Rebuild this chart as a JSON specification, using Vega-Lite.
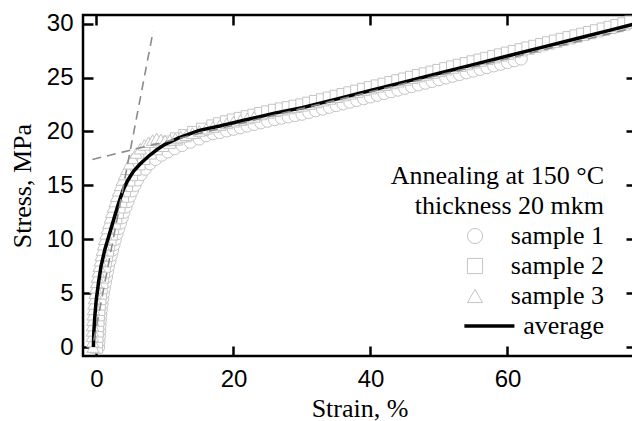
{
  "$schema": "https://vega.github.io/schema/vega-lite/v6.json",
  "width": 553,
  "height": 341,
  "autosize": {"type": "none"},
  "padding": {"left": 83, "top": 15, "right": 0, "bottom": 65},
  "background": "white",
  "config": {
    "view": {"stroke": "black", "strokeWidth": 2.5},
    "axis": {"grid": false, "domain": false, "tickColor": "black", "tickWidth": 2.5, "tickSize": -10, "labelColor": "black", "titleColor": "black", "labelFont": "Liberation Sans", "labelFontSize": 24, "titleFont": "Liberation Serif", "titleFontSize": 26, "titleFontWeight": "normal"},
    "legend": {"orient": "none", "legendX": 308, "legendY": 148, "padding": 0,
      "titleFont": "Liberation Serif", "titleFontSize": 26, "titleFontWeight": "normal", "titleColor": "black", "titleAnchor": "end", "titleAlign": "right", "titleLimit": 400, "titleLineHeight": 30, "titlePadding": 4,
      "labelFont": "Liberation Serif", "labelFontSize": 26, "labelColor": "black", "labelLimit": 300, "labelAlign": "right", "labelOffset": 116,
      "symbolSize": 230, "symbolFillColor": "white", "symbolOpacity": 1, "rowPadding": 4}
  },
  "datasets": {
    "samples": [
      {"series":"sample 1","strain":0.3,"stress":0},{"series":"sample 1","strain":0.35,"stress":0.5},{"series":"sample 1","strain":0.4,"stress":1},{"series":"sample 1","strain":0.45,"stress":1.5},{"series":"sample 1","strain":0.5,"stress":2},{"series":"sample 1","strain":0.55,"stress":2.5},{"series":"sample 1","strain":0.6,"stress":3},{"series":"sample 1","strain":0.7,"stress":3.5},{"series":"sample 1","strain":0.8,"stress":4},{"series":"sample 1","strain":0.9,"stress":4.5},{"series":"sample 1","strain":1.0,"stress":5},{"series":"sample 1","strain":1.15,"stress":5.5},{"series":"sample 1","strain":1.3,"stress":6},{"series":"sample 1","strain":1.45,"stress":6.5},{"series":"sample 1","strain":1.6,"stress":7},{"series":"sample 1","strain":1.75,"stress":7.5},{"series":"sample 1","strain":1.95,"stress":8},{"series":"sample 1","strain":2.15,"stress":8.5},{"series":"sample 1","strain":2.35,"stress":9},{"series":"sample 1","strain":2.55,"stress":9.5},{"series":"sample 1","strain":2.75,"stress":10},{"series":"sample 1","strain":3.0,"stress":10.5},{"series":"sample 1","strain":3.25,"stress":11},{"series":"sample 1","strain":3.5,"stress":11.5},{"series":"sample 1","strain":3.75,"stress":12},{"series":"sample 1","strain":4.0,"stress":12.5},{"series":"sample 1","strain":4.3,"stress":13},{"series":"sample 1","strain":4.6,"stress":13.5},{"series":"sample 1","strain":4.9,"stress":14},{"series":"sample 1","strain":5.25,"stress":14.5},{"series":"sample 1","strain":5.6,"stress":15},{"series":"sample 1","strain":6.0,"stress":15.5},{"series":"sample 1","strain":6.5,"stress":16},{"series":"sample 1","strain":7.1,"stress":16.5},{"series":"sample 1","strain":7.8,"stress":17},{"series":"sample 1","strain":8.6,"stress":17.4},{"series":"sample 1","strain":9.5,"stress":17.8},{"series":"sample 1","strain":10.4,"stress":18.1},{"series":"sample 1","strain":11.4,"stress":18.4},{"series":"sample 1","strain":12.5,"stress":18.7},{"series":"sample 1","strain":13.7,"stress":19.0},{"series":"sample 1","strain":15.0,"stress":19.3},
      {"series":"sample 1","strain":16,"stress":19.6},{"series":"sample 1","strain":17,"stress":19.8},{"series":"sample 1","strain":18,"stress":19.9},{"series":"sample 1","strain":19,"stress":20.05},{"series":"sample 1","strain":20,"stress":20.2},{"series":"sample 1","strain":21,"stress":20.35},{"series":"sample 1","strain":22,"stress":20.5},{"series":"sample 1","strain":23,"stress":20.65},{"series":"sample 1","strain":24,"stress":20.8},{"series":"sample 1","strain":25,"stress":20.95},{"series":"sample 1","strain":26,"stress":21.1},{"series":"sample 1","strain":27,"stress":21.23},{"series":"sample 1","strain":28,"stress":21.35},{"series":"sample 1","strain":29,"stress":21.48},{"series":"sample 1","strain":30,"stress":21.6},{"series":"sample 1","strain":31,"stress":21.76},{"series":"sample 1","strain":32,"stress":21.92},{"series":"sample 1","strain":33,"stress":22.08},{"series":"sample 1","strain":34,"stress":22.24},{"series":"sample 1","strain":35,"stress":22.4},{"series":"sample 1","strain":36,"stress":22.56},{"series":"sample 1","strain":37,"stress":22.72},{"series":"sample 1","strain":38,"stress":22.88},{"series":"sample 1","strain":39,"stress":23.04},{"series":"sample 1","strain":40,"stress":23.2},{"series":"sample 1","strain":41,"stress":23.36},{"series":"sample 1","strain":42,"stress":23.52},{"series":"sample 1","strain":43,"stress":23.68},{"series":"sample 1","strain":44,"stress":23.84},{"series":"sample 1","strain":45,"stress":24.0},{"series":"sample 1","strain":46,"stress":24.16},{"series":"sample 1","strain":47,"stress":24.32},{"series":"sample 1","strain":48,"stress":24.48},{"series":"sample 1","strain":49,"stress":24.64},{"series":"sample 1","strain":50,"stress":24.8},{"series":"sample 1","strain":51,"stress":24.96},{"series":"sample 1","strain":52,"stress":25.12},{"series":"sample 1","strain":53,"stress":25.28},{"series":"sample 1","strain":54,"stress":25.44},{"series":"sample 1","strain":55,"stress":25.6},{"series":"sample 1","strain":56,"stress":25.76},{"series":"sample 1","strain":57,"stress":25.92},{"series":"sample 1","strain":58,"stress":26.08},{"series":"sample 1","strain":59,"stress":26.24},{"series":"sample 1","strain":60,"stress":26.4},{"series":"sample 1","strain":61,"stress":26.56},{"series":"sample 1","strain":62,"stress":26.72},
      {"series":"sample 2","strain":0,"stress":0},{"series":"sample 2","strain":0,"stress":0.5},{"series":"sample 2","strain":0.05,"stress":1},{"series":"sample 2","strain":0.1,"stress":1.5},{"series":"sample 2","strain":0.15,"stress":2},{"series":"sample 2","strain":0.2,"stress":2.5},{"series":"sample 2","strain":0.25,"stress":3},{"series":"sample 2","strain":0.32,"stress":3.5},{"series":"sample 2","strain":0.4,"stress":4},{"series":"sample 2","strain":0.48,"stress":4.5},{"series":"sample 2","strain":0.56,"stress":5},{"series":"sample 2","strain":0.66,"stress":5.5},{"series":"sample 2","strain":0.76,"stress":6},{"series":"sample 2","strain":0.88,"stress":6.5},{"series":"sample 2","strain":1.0,"stress":7},{"series":"sample 2","strain":1.12,"stress":7.5},{"series":"sample 2","strain":1.27,"stress":8},{"series":"sample 2","strain":1.42,"stress":8.5},{"series":"sample 2","strain":1.58,"stress":9},{"series":"sample 2","strain":1.76,"stress":9.5},{"series":"sample 2","strain":1.95,"stress":10},{"series":"sample 2","strain":2.15,"stress":10.5},{"series":"sample 2","strain":2.35,"stress":11},{"series":"sample 2","strain":2.57,"stress":11.5},{"series":"sample 2","strain":2.8,"stress":12},{"series":"sample 2","strain":3.03,"stress":12.5},{"series":"sample 2","strain":3.27,"stress":13},{"series":"sample 2","strain":3.52,"stress":13.5},{"series":"sample 2","strain":3.78,"stress":14},{"series":"sample 2","strain":4.06,"stress":14.5},{"series":"sample 2","strain":4.37,"stress":15},{"series":"sample 2","strain":4.7,"stress":15.5},{"series":"sample 2","strain":5.1,"stress":16},{"series":"sample 2","strain":5.6,"stress":16.5},{"series":"sample 2","strain":6.2,"stress":17},{"series":"sample 2","strain":6.9,"stress":17.5},{"series":"sample 2","strain":7.8,"stress":18},{"series":"sample 2","strain":8.7,"stress":18.4},{"series":"sample 2","strain":9.6,"stress":18.7},{"series":"sample 2","strain":10.6,"stress":19.0},{"series":"sample 2","strain":11.7,"stress":19.3},{"series":"sample 2","strain":12.9,"stress":19.6},{"series":"sample 2","strain":14.2,"stress":19.9},{"series":"sample 2","strain":15.5,"stress":20.2},
      {"series":"sample 2","strain":17,"stress":20.5},{"series":"sample 2","strain":18,"stress":20.7},{"series":"sample 2","strain":19,"stress":20.88},{"series":"sample 2","strain":20,"stress":21.05},{"series":"sample 2","strain":21,"stress":21.2},{"series":"sample 2","strain":22,"stress":21.35},{"series":"sample 2","strain":23,"stress":21.5},{"series":"sample 2","strain":24,"stress":21.65},{"series":"sample 2","strain":25,"stress":21.8},{"series":"sample 2","strain":26,"stress":21.95},{"series":"sample 2","strain":27,"stress":22.08},{"series":"sample 2","strain":28,"stress":22.2},{"series":"sample 2","strain":29,"stress":22.33},{"series":"sample 2","strain":30,"stress":22.45},{"series":"sample 2","strain":31,"stress":22.61},{"series":"sample 2","strain":32,"stress":22.77},{"series":"sample 2","strain":33,"stress":22.93},{"series":"sample 2","strain":34,"stress":23.09},{"series":"sample 2","strain":35,"stress":23.25},{"series":"sample 2","strain":36,"stress":23.41},{"series":"sample 2","strain":37,"stress":23.57},{"series":"sample 2","strain":38,"stress":23.73},{"series":"sample 2","strain":39,"stress":23.89},{"series":"sample 2","strain":40,"stress":24.05},{"series":"sample 2","strain":41,"stress":24.21},{"series":"sample 2","strain":42,"stress":24.37},{"series":"sample 2","strain":43,"stress":24.53},{"series":"sample 2","strain":44,"stress":24.69},{"series":"sample 2","strain":45,"stress":24.85},{"series":"sample 2","strain":46,"stress":25.01},{"series":"sample 2","strain":47,"stress":25.17},{"series":"sample 2","strain":48,"stress":25.33},{"series":"sample 2","strain":49,"stress":25.49},{"series":"sample 2","strain":50,"stress":25.65},{"series":"sample 2","strain":51,"stress":25.81},{"series":"sample 2","strain":52,"stress":25.97},{"series":"sample 2","strain":53,"stress":26.13},{"series":"sample 2","strain":54,"stress":26.29},{"series":"sample 2","strain":55,"stress":26.45},{"series":"sample 2","strain":56,"stress":26.61},{"series":"sample 2","strain":57,"stress":26.77},{"series":"sample 2","strain":58,"stress":26.93},{"series":"sample 2","strain":59,"stress":27.09},{"series":"sample 2","strain":60,"stress":27.25},{"series":"sample 2","strain":61,"stress":27.41},{"series":"sample 2","strain":62,"stress":27.57},{"series":"sample 2","strain":63,"stress":27.73},{"series":"sample 2","strain":64,"stress":27.89},{"series":"sample 2","strain":65,"stress":28.05},{"series":"sample 2","strain":66,"stress":28.21},{"series":"sample 2","strain":67,"stress":28.37},{"series":"sample 2","strain":68,"stress":28.53},{"series":"sample 2","strain":69,"stress":28.69},{"series":"sample 2","strain":70,"stress":28.85},{"series":"sample 2","strain":71,"stress":29.01},{"series":"sample 2","strain":72,"stress":29.17},{"series":"sample 2","strain":73,"stress":29.33},{"series":"sample 2","strain":74,"stress":29.49},{"series":"sample 2","strain":75,"stress":29.65},{"series":"sample 2","strain":76,"stress":29.81},{"series":"sample 2","strain":77,"stress":29.97},{"series":"sample 2","strain":78,"stress":30.13},
      {"series":"sample 3","strain":-0.5,"stress":0},{"series":"sample 3","strain":-0.55,"stress":0.5},{"series":"sample 3","strain":-0.6,"stress":1},{"series":"sample 3","strain":-0.6,"stress":1.5},{"series":"sample 3","strain":-0.58,"stress":2},{"series":"sample 3","strain":-0.55,"stress":2.5},{"series":"sample 3","strain":-0.5,"stress":3},{"series":"sample 3","strain":-0.45,"stress":3.5},{"series":"sample 3","strain":-0.38,"stress":4},{"series":"sample 3","strain":-0.3,"stress":4.5},{"series":"sample 3","strain":-0.2,"stress":5},{"series":"sample 3","strain":-0.1,"stress":5.5},{"series":"sample 3","strain":0,"stress":6},{"series":"sample 3","strain":0.12,"stress":6.5},{"series":"sample 3","strain":0.25,"stress":7},{"series":"sample 3","strain":0.38,"stress":7.5},{"series":"sample 3","strain":0.52,"stress":8},{"series":"sample 3","strain":0.67,"stress":8.5},{"series":"sample 3","strain":0.83,"stress":9},{"series":"sample 3","strain":1.0,"stress":9.5},{"series":"sample 3","strain":1.18,"stress":10},{"series":"sample 3","strain":1.37,"stress":10.5},{"series":"sample 3","strain":1.57,"stress":11},{"series":"sample 3","strain":1.78,"stress":11.5},{"series":"sample 3","strain":2.0,"stress":12},{"series":"sample 3","strain":2.22,"stress":12.5},{"series":"sample 3","strain":2.45,"stress":13},{"series":"sample 3","strain":2.7,"stress":13.5},{"series":"sample 3","strain":2.95,"stress":14},{"series":"sample 3","strain":3.2,"stress":14.5},{"series":"sample 3","strain":3.48,"stress":15},{"series":"sample 3","strain":3.77,"stress":15.5},{"series":"sample 3","strain":4.08,"stress":16},{"series":"sample 3","strain":4.42,"stress":16.5},{"series":"sample 3","strain":4.8,"stress":17},{"series":"sample 3","strain":5.25,"stress":17.5},{"series":"sample 3","strain":5.8,"stress":18},{"series":"sample 3","strain":6.4,"stress":18.4},{"series":"sample 3","strain":7.0,"stress":18.75},{"series":"sample 3","strain":7.6,"stress":19.0},{"series":"sample 3","strain":8.2,"stress":19.2},{"series":"sample 3","strain":8.8,"stress":19.35},{"series":"sample 3","strain":9.4,"stress":19.25},{"series":"sample 3","strain":10.0,"stress":19.15},{"series":"sample 3","strain":10.7,"stress":19.2},{"series":"sample 3","strain":11.5,"stress":19.35},{"series":"sample 3","strain":12.3,"stress":19.5},{"series":"sample 3","strain":13.1,"stress":19.65},{"series":"sample 3","strain":14,"stress":19.85},{"series":"sample 3","strain":15,"stress":20.05},{"series":"sample 3","strain":16,"stress":20.25},{"series":"sample 3","strain":17,"stress":20.42},{"series":"sample 3","strain":18,"stress":20.6},{"series":"sample 3","strain":19,"stress":20.75},{"series":"sample 3","strain":20,"stress":20.9},{"series":"sample 3","strain":21,"stress":21.05},{"series":"sample 3","strain":22,"stress":21.2},{"series":"sample 3","strain":23,"stress":21.35}
    ],
    "average": [
      {"series":"average","strain":-0.45,"stress":0.0},{"series":"average","strain":-0.4,"stress":1.3},{"series":"average","strain":-0.25,"stress":2.8},{"series":"average","strain":-0.05,"stress":4.3},{"series":"average","strain":0.3,"stress":6.0},{"series":"average","strain":0.65,"stress":7.45},{"series":"average","strain":1.2,"stress":9.0},{"series":"average","strain":1.8,"stress":10.3},{"series":"average","strain":2.5,"stress":11.8},{"series":"average","strain":3.2,"stress":13.3},{"series":"average","strain":3.9,"stress":14.6},{"series":"average","strain":4.6,"stress":15.5},{"series":"average","strain":5.4,"stress":16.3},{"series":"average","strain":6.4,"stress":17.0},{"series":"average","strain":7.6,"stress":17.7},{"series":"average","strain":8.8,"stress":18.3},{"series":"average","strain":10,"stress":18.8},{"series":"average","strain":12,"stress":19.4},{"series":"average","strain":15,"stress":20.1},{"series":"average","strain":18,"stress":20.5},{"series":"average","strain":22,"stress":21.1},{"series":"average","strain":26,"stress":21.7},{"series":"average","strain":30,"stress":22.2},{"series":"average","strain":35,"stress":23.0},{"series":"average","strain":40,"stress":23.8},{"series":"average","strain":45,"stress":24.6},{"series":"average","strain":50,"stress":25.4},{"series":"average","strain":55,"stress":26.2},{"series":"average","strain":60,"stress":27.0},{"series":"average","strain":65,"stress":27.8},{"series":"average","strain":70,"stress":28.6},{"series":"average","strain":75,"stress":29.4},{"series":"average","strain":79,"stress":30.04}
    ],
    "fits": [
      {"fit":"elastic","strain":-0.4,"stress":0.6},{"fit":"elastic","strain":8.27,"stress":29.3},
      {"fit":"plastic","strain":-0.6,"stress":17.4},{"fit":"plastic","strain":79,"stress":29.7}
    ]
  },
  "layer": [
    {
      "data": {"name": "samples"},
      "mark": {"type": "point", "filled": true, "fill": "white", "size": 150, "opacity": 1, "clip": true},
      "encoding": {
        "x": {"field": "strain", "type": "quantitative", "scale": {"domain": [-1.97, 78.76], "nice": false, "zero": false}, "axis": {"orient": "bottom", "values": [0, 20, 40, 60], "labelPadding": 21, "title": "Strain, %", "titlePadding": 4}},
        "y": {"field": "stress", "type": "quantitative", "scale": {"domain": [-0.83, 30.8], "nice": false, "zero": false}, "axis": {"orient": "left", "values": [0, 5, 10, 15, 20, 25, 30], "labelPadding": 20, "title": "Stress, MPa", "titlePadding": 11}},
        "stroke": {"field": "series", "type": "nominal",
          "scale": {"domain": ["sample 1", "sample 2", "sample 3", "average"], "range": ["#c4c4c4", "#c4c4c4", "#c4c4c4", "black"]},
          "legend": {"title": ["Annealing at 150 °C", "thickness 20 mkm"]}},
        "shape": {"field": "series", "type": "nominal",
          "scale": {"domain": ["sample 1", "sample 2", "sample 3", "average"], "range": ["circle", "square", "triangle-up", "M-1.4,0H5.2"]},
          "legend": {"title": ["Annealing at 150 °C", "thickness 20 mkm"]}},
        "strokeWidth": {"field": "series", "type": "nominal",
          "scale": {"type": "ordinal", "domain": ["sample 1", "sample 2", "sample 3", "average"], "range": [1, 1, 1, 3.5]},
          "legend": {"title": ["Annealing at 150 °C", "thickness 20 mkm"]}}
      }
    },
    {
      "data": {"name": "average"},
      "mark": {"type": "line", "clip": true},
      "encoding": {
        "x": {"field": "strain", "type": "quantitative", "scale": {"domain": [-1.97, 78.76], "nice": false, "zero": false}, "axis": null},
        "y": {"field": "stress", "type": "quantitative", "scale": {"domain": [-0.83, 30.8], "nice": false, "zero": false}, "axis": null},
        "stroke": {"field": "series", "type": "nominal",
          "scale": {"domain": ["sample 1", "sample 2", "sample 3", "average"], "range": ["#c4c4c4", "#c4c4c4", "#c4c4c4", "black"]},
          "legend": {"title": ["Annealing at 150 °C", "thickness 20 mkm"]}},
        "strokeWidth": {"field": "series", "type": "nominal",
          "scale": {"type": "ordinal", "domain": ["sample 1", "sample 2", "sample 3", "average"], "range": [1, 1, 1, 3.5]},
          "legend": {"title": ["Annealing at 150 °C", "thickness 20 mkm"]}}
      }
    },
    {
      "data": {"name": "fits"},
      "mark": {"type": "line", "stroke": "#8a8a8a", "strokeWidth": 1.6, "strokeDash": [9, 6], "clip": true},
      "encoding": {
        "x": {"field": "strain", "type": "quantitative", "scale": {"domain": [-1.97, 78.76], "nice": false, "zero": false}, "axis": {"orient": "top", "values": [0, 20, 40, 60], "labels": false, "title": null}},
        "y": {"field": "stress", "type": "quantitative", "scale": {"domain": [-0.83, 30.8], "nice": false, "zero": false}, "axis": {"orient": "right", "values": [0, 5, 10, 15, 20, 25, 30], "labels": false, "title": null}},
        "detail": {"field": "fit", "type": "nominal"}
      }
    }
  ],
  "resolve": {"axis": {"x": "independent", "y": "independent"}}
}
